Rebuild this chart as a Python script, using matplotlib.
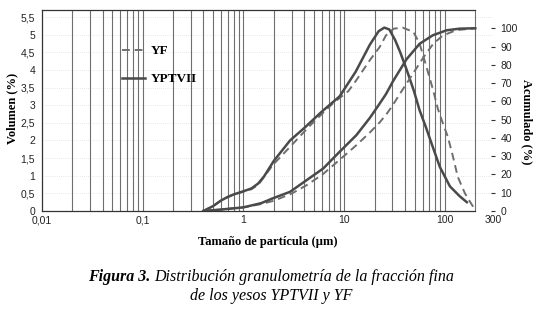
import matplotlib
matplotlib.use('Agg')
import matplotlib.pyplot as plt
from matplotlib.ticker import LogLocator, NullFormatter, FixedLocator, FixedFormatter

# ---- data ----
# frequency curves (Volumen %)
size_yptvii_freq = [0.4, 0.5, 0.6, 0.7, 0.8, 1.0, 1.2, 1.4, 1.6, 2.0, 2.9, 4.0, 6.0, 9.0, 13.0, 18.0,
                    22.0, 25.0, 28.0, 32.0, 36.0, 42.0, 49.0, 56.0, 65.0, 75.0, 89.0, 112.0, 140.0, 165.0]
vol_yptvii = [0.0, 0.14, 0.30, 0.40, 0.47, 0.56, 0.64, 0.78, 0.98, 1.42, 2.0, 2.35, 2.82, 3.25, 3.95, 4.72,
              5.10, 5.20, 5.15, 4.85, 4.50, 3.98, 3.42, 2.86, 2.36, 1.85, 1.25, 0.70, 0.42, 0.25]

size_yf_freq = [0.4, 0.5, 0.6, 0.7, 0.8, 1.0, 1.2, 1.4, 1.95, 2.9, 4.5, 6.0, 7.7, 11.0, 13.2, 18.0,
                22.5, 26.0, 31.0, 38.0, 48.6, 56.0, 65.5, 76.0, 85.0, 95.0, 107.0, 120.0, 134.0,
                158.0, 183.0, 200.0]
vol_yf = [0.0, 0.14, 0.30, 0.40, 0.47, 0.55, 0.62, 0.74, 1.30, 1.82, 2.40, 2.75, 3.05, 3.40, 3.71, 4.28,
          4.65, 4.98, 5.17, 5.20, 5.08, 4.75, 4.09, 3.45, 2.90, 2.50, 2.10, 1.55, 0.97,
          0.50, 0.20, 0.03]

# cumulative curves (Acumulado %)
size_yptvii_cum = [0.4, 0.6, 1.0, 1.5, 1.95, 2.9, 4.5, 6.2, 9.0, 13.2, 18.0, 22.0, 26.0, 30.5,
                   41.5, 56.0, 76.0, 104.0, 140.0, 200.0]
cum_yptvii = [0.0, 0.8, 2.0, 4.3, 6.9, 10.5, 17.9, 23.3, 32.4, 41.5, 51.0, 58.0, 64.0, 71.0,
              83.0, 91.5, 96.2, 98.9, 99.8, 100.0]

size_yf_cum = [0.4, 0.6, 1.0, 1.5, 2.0, 3.0, 4.2, 6.1, 9.0, 13.2, 18.0, 22.5, 26.3, 30.0,
               35.6, 48.6, 61.0, 76.5, 95.0, 130.0, 200.0]
cum_yf = [0.0, 0.8, 2.0, 3.8, 5.6, 9.5, 14.0, 20.0, 28.0, 36.0, 43.0, 48.5, 53.0, 57.5,
          64.0, 75.5, 84.0, 91.5, 96.0, 99.0, 100.0]

x_ticks = [0.01, 0.1, 1, 10, 100, 300]
x_ticklabels = ['0,01', '0,1', '1', '10', '100', '300']
left_ticks = [0, 0.5, 1, 1.5, 2, 2.5, 3, 3.5, 4, 4.5, 5, 5.5]
left_ticklabels = ['0', '0,5', '1', '1,5', '2', '2,5', '3', '3,5', '4', '4,5', '5', '5,5']
right_ticks = [0, 10, 20, 30, 40, 50, 60, 70, 80, 90, 100]

# ---- figure ----
W, H = 539, 309
fig = plt.figure(figsize=(W / 100, H / 100), dpi=100)
ax = fig.add_axes([42 / W, 1 - 211 / H, (493 - 42) / W, (211 - 10) / H])
ax.set_xscale('log')
ax.set_xlim(0.01, 300)
ax.set_ylim(0, 5.7)

serif = ['Liberation Serif', 'DejaVu Serif']
sans = ['Liberation Sans', 'DejaVu Sans']
grid_col = '#6e6e6e'

# vertical log grid up to 200
ax.xaxis.set_major_locator(FixedLocator(x_ticks))
ax.xaxis.set_major_formatter(FixedFormatter(x_ticklabels))
ax.xaxis.set_minor_locator(LogLocator(base=10, subs=range(2, 10), numticks=20))
ax.xaxis.set_minor_formatter(NullFormatter())
for xv in [v * m for v in (0.01, 0.1, 1, 10, 100) for m in range(1, 10)]:
    if 0.01 < xv <= 200.0001:
        ax.axvline(xv, color=grid_col, lw=0.8, zorder=1)
ax.tick_params(axis='x', which='both', length=0, pad=3, labelsize=7.5, labelcolor='#222222')
for lab in ax.get_xticklabels():
    lab.set_family(sans)

ax.set_yticks(left_ticks)
ax.set_yticklabels(left_ticklabels)
ax.tick_params(axis='y', length=0, pad=5, labelsize=7.5, labelcolor='#222222')
for lab in ax.get_yticklabels():
    lab.set_family(sans)
for yv in left_ticks[1:]:
    ax.axhline(yv, color='#d4d4d4', lw=0.5, ls=(0, (1, 2)), zorder=0.5)

for side in ['left', 'bottom', 'top']:
    ax.spines[side].set_color('#333333')
    ax.spines[side].set_linewidth(0.9)
ax.spines['top'].set_bounds(0.01, 200)
ax.spines['bottom'].set_bounds(0.01, 200)
ax.spines['right'].set_visible(False)

solid_col = '#4a4a4a'
dash_col = '#6e6e6e'
l_yf, = ax.plot(size_yf_freq, vol_yf, color=dash_col, lw=1.4, ls=(0, (4, 2.5)), zorder=3, label='YF')
l_yp, = ax.plot(size_yptvii_freq, vol_yptvii, color=solid_col, lw=1.8, zorder=4, label='YPTVII')

ax2 = ax.twinx()
ax2.set_ylim(0, 110)
ax2.set_yticks(right_ticks)
ax2.tick_params(axis='y', length=3, width=0.8, color='#333333', direction='inout', pad=4,
                labelsize=7.5, labelcolor='#222222')
for lab in ax2.get_yticklabels():
    lab.set_family(sans)
for side in ax2.spines:
    ax2.spines[side].set_visible(False)
ax2.plot(size_yf_cum, cum_yf, color=dash_col, lw=1.4, ls=(0, (4, 2.5)), zorder=3)
ax2.plot(size_yptvii_cum, cum_yptvii, color=solid_col, lw=1.8, zorder=4)

leg = ax.legend(handles=[l_yf, l_yp], loc='upper left', bbox_to_anchor=(0.15, 0.885),
                frameon=False, handlelength=1.75, handletextpad=0.5, labelspacing=1.2,
                prop={'family': serif, 'weight': 'bold', 'size': 9.5})

# axis labels
fig.text(12 / W, 1 - 108 / H, 'Volumen (%)', rotation=90, ha='center', va='center',
         family=serif, weight='bold', fontsize=9)
fig.text(527 / W, 1 - 122 / H, 'Acumulado (%)', rotation=270, ha='center', va='center',
         family=serif, weight='bold', fontsize=9)
fig.text(268 / W, 1 - 242 / H, 'Tamaño de partícula (µm)', ha='center', va='center',
         family=serif, weight='bold', fontsize=9)

# caption
fig.canvas.draw()
r = fig.canvas.get_renderer()
y1 = 1 - 277 / H
t1 = fig.text(0, y1, 'Figura 3.', ha='left', va='center', family=serif, style='italic',
              weight='bold', fontsize=11.5)
t2 = fig.text(0, y1, 'Distribución granulometría de la fracción fina', ha='left', va='center',
              family=serif, style='italic', fontsize=11.5)
w1 = t1.get_window_extent(r).width
w2 = t2.get_window_extent(r).width
gap = 3.5
x0 = 271 - (w1 + gap + w2) / 2
t1.set_x(x0 / W)
t2.set_x((x0 + w1 + gap) / W)
fig.text(271 / W, 1 - 296 / H, 'de los yesos YPTVII y YF', ha='center', va='center',
         family=serif, style='italic', fontsize=11.5)

fig.savefig('out.png', dpi=100)
